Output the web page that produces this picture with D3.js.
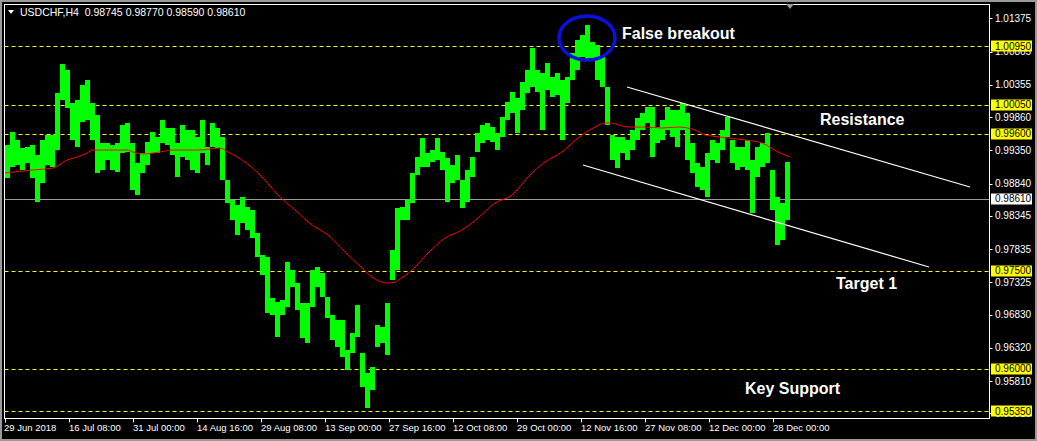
<!DOCTYPE html>
<html>
<head>
<meta charset="utf-8">
<script src="https://cdn.jsdelivr.net/npm/d3@7"></script>
<style>
  body { margin: 0; background: #000; }
  svg { display: block; }
  text { font-family: "Liberation Sans", Arial, sans-serif; }
</style>
</head>
<body>
<div id="chart"></div>
<script>
// USDCHF H4 - each entry is a group of 5 H4 bars (high / low)
var highs = [0.99431,0.99631,0.99508,0.99385,0.99400,0.99431,0.99278,0.99508,0.99585,0.99585,
  1.00229,1.00674,1.00582,1.00076,1.00122,1.00352,1.00428,1.00076,0.99891,0.99462,
  0.99462,0.99431,0.99462,0.99738,0.99769,0.99462,0.99155,0.99308,0.99477,0.99631,
  0.99554,0.99815,0.99692,0.99692,0.99462,0.99738,0.99661,0.99661,0.99554,0.99815,
  0.99400,0.99769,0.99692,0.99554,0.98894,0.98587,0.98511,0.98633,0.98480,0.98434,
  0.98081,0.97743,0.97713,0.97084,0.97022,0.97053,0.97636,0.97513,0.97314,0.97007,
  0.97007,0.97513,0.97559,0.97467,0.97099,0.96823,0.96746,0.96746,0.96286,0.96547,
  0.96976,0.96240,0.95933,0.96025,0.96670,0.96639,0.97007,0.97820,0.98465,0.98480,
  0.98587,0.99002,0.99247,0.99539,0.99308,0.99354,0.99539,0.99324,0.99232,0.99124,
  0.99278,0.98894,0.99048,0.99247,0.99615,0.99738,0.99769,0.99707,0.99615,0.99861,
  1.00091,1.00244,1.00152,1.00398,1.00582,1.00919,1.00582,1.00536,1.00689,1.00474,
  1.00536,1.00428,1.00474,1.00843,1.01042,1.01119,1.01272,1.01011,1.00965,1.00781,
  1.00321,0.99585,0.99554,0.99554,0.99508,0.99661,0.99845,0.99922,1.00014,1.00014,
  0.99707,0.99815,1.00014,0.99968,0.99968,1.00076,0.99922,0.99462,0.99155,0.99094,
  0.99308,0.99508,0.99462,0.99661,0.99861,0.99508,0.99400,0.99400,0.99508,0.99201,
  0.99400,0.99462,0.99615,0.99048,0.98633,0.98541,0.99170];

var lows = [0.98925,0.99094,0.99124,0.99048,0.99155,0.98925,0.98557,0.98848,0.99124,0.99094,
  0.99354,1.00122,0.99999,0.99508,0.99400,0.99784,0.99815,0.99508,0.99002,0.99048,
  0.99201,0.99048,0.99017,0.99308,0.99324,0.98741,0.98664,0.99002,0.99124,0.99308,
  0.99308,0.99462,0.99431,0.99278,0.98940,0.99247,0.99201,0.99048,0.99002,0.99308,
  0.99124,0.99400,0.99385,0.98894,0.98541,0.98281,0.98050,0.98234,0.98127,0.98004,
  0.97713,0.97437,0.96854,0.96823,0.96485,0.96823,0.96946,0.97253,0.96900,0.96470,
  0.96393,0.96946,0.97253,0.97099,0.96777,0.96439,0.96332,0.96179,0.95979,0.96240,
  0.96485,0.95718,0.95396,0.95672,0.96332,0.96393,0.96209,0.97360,0.97513,0.98281,
  0.98281,0.98541,0.98971,0.99094,0.99094,0.99170,0.99201,0.99048,0.98557,0.98848,
  0.98894,0.98465,0.98557,0.98940,0.99324,0.99462,0.99508,0.99477,0.99354,0.99554,
  0.99815,0.99922,0.99615,0.99968,1.00229,1.00321,1.00244,0.99661,1.00275,1.00168,
  1.00198,0.99508,1.00076,1.00428,1.00582,1.00781,1.00735,1.00766,1.00428,1.00321,
  0.99738,0.99201,0.99078,0.99308,0.99201,0.99354,0.99508,0.99661,0.99769,0.99247,
  0.99462,0.99508,0.99661,0.99554,0.99400,0.99661,0.99201,0.99002,0.98787,0.98741,
  0.98633,0.99201,0.99155,0.99354,0.99554,0.99155,0.99048,0.99094,0.99048,0.98388,
  0.98940,0.99094,0.99155,0.98434,0.97897,0.97974,0.98281];

// red moving average, read at a handful of bars
var maBars = [0,28,48,62,72,82,88,122,128,138,155,168,195,215,223,240,257,273,290,307,
  323,340,357,367,382,390,395,407,423,440,457,473,490,507,523,540,557,573,590,600,
  605,623,640,657,673,690,700,707,723,740,757,773,785];
var maValues = [0.99002,0.99048,0.99078,0.99201,0.99247,0.99308,0.99354,0.99354,0.99324,0.99293,
  0.99324,0.99354,0.99354,0.99385,0.99324,0.99170,0.98940,0.98664,0.98434,0.98204,
  0.98050,0.97790,0.97544,0.97406,0.97314,0.97329,0.97375,0.97513,0.97774,0.98004,
  0.98127,0.98311,0.98541,0.98664,0.98940,0.99170,0.99324,0.99539,0.99707,0.99769,
  0.99769,0.99707,0.99707,0.99692,0.99707,0.99661,0.99585,0.99569,0.99539,0.99508,
  0.99462,0.99324,0.99247];

var dateBars = [0,64,128,192,256,320,384,448,512,576,640,704,768];
var dateLabels = ["29 Jun 2018","16 Jul 08:00","31 Jul 00:00","14 Aug 16:00","29 Aug 08:00",
  "13 Sep 00:00","27 Sep 16:00","12 Oct 08:00","29 Oct 00:00","12 Nov 16:00",
  "27 Nov 08:00","12 Dec 00:00","28 Dec 00:00"];

var priceTicks = [1.01375,1.00865,1.00355,0.99860,0.99350,0.98840,0.98345,0.97835,0.97325,
  0.96830,0.96320,0.95810,0.95315];
var levels = [1.00950,1.00050,0.99600,0.97500,0.96000,0.95350];
var lastPrice = 0.98610;
var header = "USDCHF,H4  0.98745 0.98770 0.98590 0.98610";

var channelUpper = [[622,1.00321],[965,0.98787]];
var channelLower = [[578,0.99124],[924,0.97559]];

var notes = ["False breakout","Resistance","Target 1","Key Support"];
var noteBars = [617,815,831,740];
var notePrices = [1.01057,0.99738,0.97222,0.95610];

// chart
var svgWidth = 1037, svgHeight = 441;
var frame = {left: 4.5, top: 4.5, right: 989.5, bottom: 418.5};
var groupSize = 5;

var svg = d3.select("#chart").append("svg")
  .attr("width", svgWidth)
  .attr("height", svgHeight);

svg.append("rect")
  .attr("x", 1).attr("y", 1)
  .attr("width", svgWidth - 2).attr("height", svgHeight - 2)
  .attr("fill", "#000")
  .attr("stroke", "#9a9a9a")
  .attr("stroke-width", 2);

var x = d3.scaleLinear().domain([0, 985]).range([5, 990]);
var y = d3.scaleLinear().domain([0.9535, 1.0095]).range([411, 46]);

svg.append("clipPath").attr("id", "plot")
  .append("rect")
  .attr("x", frame.left).attr("y", frame.top)
  .attr("width", frame.right - frame.left).attr("height", frame.bottom - frame.top);

var plot = svg.append("g").attr("clip-path", "url(#plot)");

// current price line
plot.append("line")
  .attr("x1", frame.left).attr("x2", frame.right)
  .attr("y1", Math.round(y(lastPrice)) + 0.5).attr("y2", Math.round(y(lastPrice)) + 0.5)
  .attr("stroke", "#9c9c9c");

// yellow levels
plot.selectAll("line.level")
  .data(levels)
  .enter()
  .append("line")
  .attr("class", "level")
  .attr("x1", frame.left).attr("x2", frame.right)
  .attr("y1", d => Math.round(y(d)) + 0.5)
  .attr("y2", d => Math.round(y(d)) + 0.5)
  .attr("stroke", "#ffff00")
  .attr("stroke-dasharray", "4,3");

// bars
plot.selectAll("rect.bar")
  .data(highs)
  .enter()
  .append("rect")
  .attr("class", "bar")
  .attr("x", (d, i) => x(i * groupSize))
  .attr("width", groupSize)
  .attr("y", d => y(d))
  .attr("height", (d, i) => y(lows[i]) - y(d))
  .attr("fill", "#00ff00")
  .attr("shape-rendering", "crispEdges");

// moving average
var maLine = d3.line()
  .x(d => x(d[0]))
  .y(d => y(d[1]))
  .curve(d3.curveMonotoneX);

plot.append("path")
  .datum(d3.zip(maBars, maValues))
  .attr("d", maLine)
  .attr("fill", "none")
  .attr("stroke", "#ff0000")
  .attr("stroke-width", 1);

// channel
[channelUpper, channelLower].forEach(function(c) {
  plot.append("line")
    .attr("x1", x(c[0][0])).attr("y1", y(c[0][1]))
    .attr("x2", x(c[1][0])).attr("y2", y(c[1][1]))
    .attr("stroke", "#ffffff")
    .attr("stroke-width", 1.2);
});

// false breakout ellipse
plot.append("ellipse")
  .attr("cx", x(582)).attr("cy", y(1.01073))
  .attr("rx", 28).attr("ry", 22)
  .attr("fill", "none")
  .attr("stroke", "#0a10e0")
  .attr("stroke-width", 3.5);

// notes
plot.selectAll("text.note")
  .data(notes)
  .enter()
  .append("text")
  .attr("class", "note")
  .attr("x", (d, i) => x(noteBars[i]))
  .attr("y", (d, i) => y(notePrices[i]))
  .attr("fill", "#ffffff")
  .attr("font-size", "16px")
  .attr("font-weight", "bold")
  .text(d => d);

// frame
svg.append("rect")
  .attr("x", frame.left).attr("y", frame.top)
  .attr("width", frame.right - frame.left).attr("height", frame.bottom - frame.top)
  .attr("fill", "none")
  .attr("stroke", "#ffffff");

// shift marker
svg.append("path")
  .attr("d", "M786,4 L794,4 L790,9 Z")
  .attr("fill", "#9a9a9a");

// header
svg.append("path")
  .attr("d", "M8,10 L14,10 L11,14 Z")
  .attr("fill", "#ffffff");
svg.append("text")
  .attr("x", 20).attr("y", 16)
  .attr("fill", "#ffffff")
  .attr("font-size", "10.5px")
  .style("white-space", "pre")
  .text(header);

// price axis
var priceAxis = svg.append("g");
priceAxis.selectAll("line.tick")
  .data(priceTicks)
  .enter()
  .append("line")
  .attr("x1", frame.right).attr("x2", frame.right + 3)
  .attr("y1", d => Math.round(y(d)) + 0.5).attr("y2", d => Math.round(y(d)) + 0.5)
  .attr("stroke", "#ffffff");
priceAxis.selectAll("text.tick")
  .data(priceTicks)
  .enter()
  .append("text")
  .attr("x", 995)
  .attr("y", d => y(d))
  .attr("dy", "0.35em")
  .attr("fill", "#ffffff")
  .attr("font-size", "10px")
  .text(d => d.toFixed(5));

function priceBox(v, bg) {
  var g = priceAxis.append("g");
  g.append("rect")
    .attr("x", 991).attr("y", Math.round(y(v)) - 5.5)
    .attr("width", 41).attr("height", 11)
    .attr("fill", bg);
  g.append("text")
    .attr("x", 995).attr("y", y(v))
    .attr("dy", "0.35em")
    .attr("fill", "#000000")
    .attr("font-size", "10px")
    .text(v.toFixed(5));
}
levels.forEach(v => priceBox(v, "#ffff00"));
priceBox(lastPrice, "#ffffff");

// time axis
var timeAxis = svg.append("g");
timeAxis.selectAll("line")
  .data(dateBars)
  .enter()
  .append("line")
  .attr("x1", d => Math.round(x(d)) + 0.5).attr("x2", d => Math.round(x(d)) + 0.5)
  .attr("y1", frame.bottom).attr("y2", frame.bottom + 4)
  .attr("stroke", "#ffffff");
timeAxis.selectAll("text")
  .data(dateLabels)
  .enter()
  .append("text")
  .attr("x", (d, i) => x(dateBars[i]) - (i === 0 ? 1 : 0))
  .attr("y", 431)
  .attr("fill", "#ffffff")
  .attr("font-size", "9.5px")
  .text(d => d);
</script>
</body>
</html>
